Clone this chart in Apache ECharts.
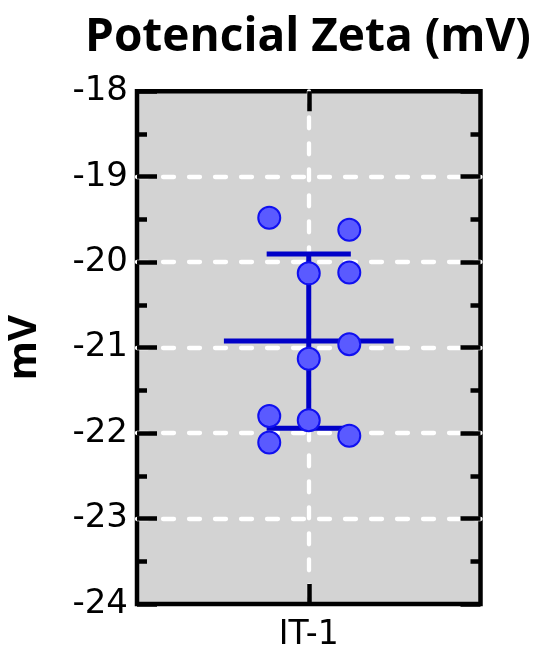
<!DOCTYPE html>
<html><head><meta charset="utf-8">
<script src="https://cdn.jsdelivr.net/npm/echarts@6/dist/echarts.min.js"></script>
<style>html,body{margin:0;padding:0;background:#fff}#c{width:538px;height:646px}</style>
</head><body><div id="c"></div>
<script>
// ---- data ----
const title = 'Potencial Zeta (mV)';
const yName = 'mV';
const categories = ['IT-1'];
const values = [-19.48, -21.80, -22.11, -20.13, -21.13, -21.85, -19.62, -20.12, -20.96, -22.03];
const jitter = [-0.115, -0.115, -0.115, 0, 0, 0, 0.118, 0.118, 0.118, 0.118];
const yMin = -24, yMax = -18, yStep = 1;

// ---- derived statistics ----
const n = values.length;
const mean = values.reduce((a, b) => a + b, 0) / n;
const sd = Math.sqrt(values.reduce((a, b) => a + (b - mean) * (b - mean), 0) / (n - 1));
const hi = mean + sd, lo = mean - sd;

const MEAN_HALF = 0.247, CAP_HALF = 0.1225;
const lineColor = '#0000c8';
const tickStyle = { color: '#000', width: 4.5 };
const gridDash = { color: '#fff', width: 4.3, type: [11, 15], cap: 'round' };

const chart = echarts.init(document.getElementById('c'), null, { renderer: 'canvas' });
const lineSeries = (name, data) => ({
  name, type: 'line', xAxisIndex: 2, yAxisIndex: 0, data,
  symbol: 'none', silent: true, animation: false, z: 3,
  lineStyle: { color: lineColor, width: 5, cap: 'butt' }
});

chart.setOption({
  animation: false,
  title: {
    text: title, left: 80, top: 10,
    textStyle: { fontFamily: 'Open Sans', fontWeight: 'bold', fontSize: 46, color: '#000' }
  },
  grid: {
    left: 137, right: 57.5, top: 91.3, bottom: 42,
    show: true, backgroundColor: '#d3d3d3', borderColor: '#000', borderWidth: 4.5,
    containLabel: false, outerBoundsMode: 'none'
  },
  xAxis: [
    {
      type: 'category', data: categories, position: 'bottom', boundaryGap: true, z: 2,
      axisLine: { show: false, onZero: false },
      axisTick: { show: true, alignWithLabel: true, inside: true, length: 20, lineStyle: tickStyle },
      axisLabel: { fontFamily: 'DejaVu Sans', fontSize: 33, color: '#000', margin: 15 },
      splitLine: { show: false }
    },
    {
      type: 'category', data: categories, position: 'top', boundaryGap: true, z: 2,
      axisLine: { show: false, onZero: false },
      axisTick: { show: true, alignWithLabel: true, inside: true, length: 20, lineStyle: tickStyle },
      axisLabel: { show: false }, splitLine: { show: false }
    },
    {
      type: 'value', min: -0.5, max: 0.5, interval: 0.5, position: 'bottom', z: 0,
      axisLine: { show: false, onZero: false }, axisTick: { show: false }, axisLabel: { show: false },
      splitLine: { show: true, showMinLine: false, showMaxLine: false, lineStyle: gridDash }
    }
  ],
  yAxis: [
    {
      type: 'value', min: yMin, max: yMax, interval: yStep, position: 'left', z: 2,
      name: yName, nameLocation: 'middle', nameGap: 92, nameRotate: 90,
      nameTextStyle: { fontFamily: 'Open Sans', fontWeight: 'bold', fontSize: 40, color: '#000' },
      axisLine: { show: false, onZero: false },
      axisTick: { show: true, inside: true, length: 20, lineStyle: tickStyle },
      minorTick: { show: true, splitNumber: 2, length: 10, lineStyle: tickStyle },
      axisLabel: { fontFamily: 'DejaVu Sans', fontSize: 34, color: '#000', margin: 9 },
      splitLine: { show: true, showMinLine: false, showMaxLine: false, lineStyle: gridDash }
    },
    {
      type: 'value', min: yMin, max: yMax, interval: yStep, position: 'right', z: 2,
      axisLine: { show: false, onZero: false },
      axisTick: { show: true, inside: true, length: 20, lineStyle: tickStyle },
      minorTick: { show: true, splitNumber: 2, length: 10, lineStyle: tickStyle },
      axisLabel: { show: false }, splitLine: { show: false }
    }
  ],
  series: [
    lineSeries('mean', [[-MEAN_HALF, mean], [MEAN_HALF, mean]]),
    lineSeries('sd', [[0, hi], [0, lo]]),
    lineSeries('capHi', [[-CAP_HALF, hi], [CAP_HALF, hi]]),
    lineSeries('capLo', [[-CAP_HALF, lo], [CAP_HALF, lo]]),
    {
      name: 'IT-1', type: 'scatter', xAxisIndex: 2, yAxisIndex: 0, z: 5,
      data: values.map((v, i) => [jitter[i], v]),
      symbol: 'circle', symbolSize: 22,
      itemStyle: { color: '#5a5aff', borderColor: '#1010f0', borderWidth: 2, opacity: 1 }
    }
  ]
});
</script></body></html>
